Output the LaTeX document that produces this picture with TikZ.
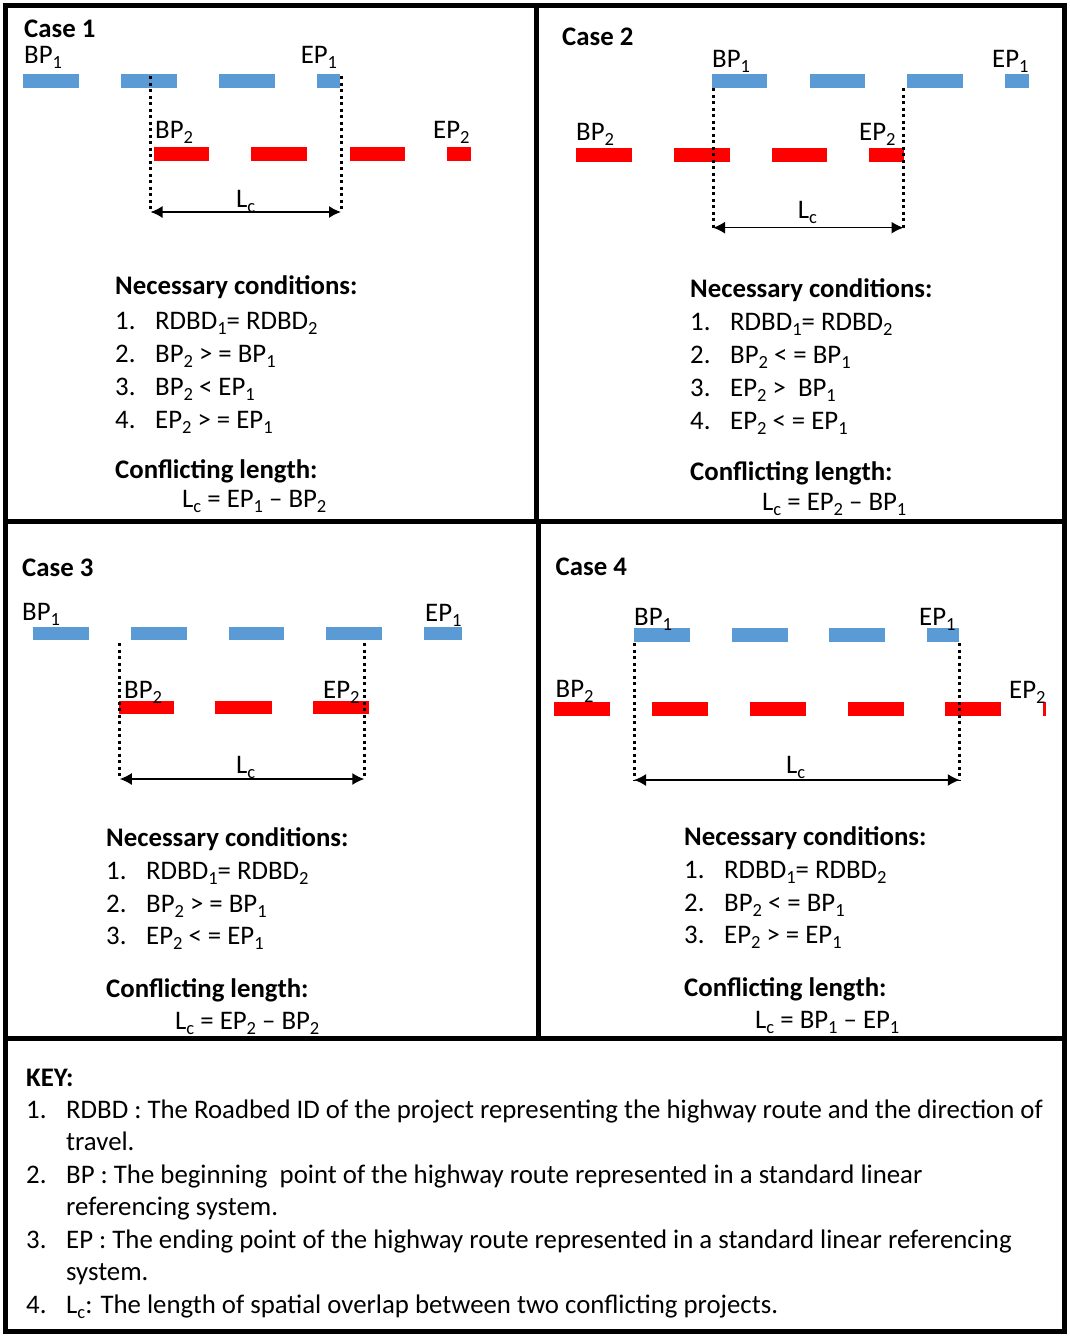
\documentclass[tikz,border=0pt]{standalone}
\usepackage{fontspec}
\setmainfont{Carlito}
\usetikzlibrary{arrows.meta}
\definecolor{segblue}{HTML}{5B9BD5}
\definecolor{segred}{HTML}{FF0000}
\newcommand{\sbs}[1]{{\fontsize{18.5}{18.5}\selectfont\raisebox{-5pt}{#1}}}
\newcommand{\itm}[1]{\makebox[40pt][l]{#1}}

\begin{document}
\begin{tikzpicture}[x=1pt,y=-1pt,
  txt/.style={anchor=base west,inner sep=0pt,font=\fontsize{26.8}{30}\selectfont},
  hdr/.style={txt,font=\fontsize{26.8}{30}\selectfont\bfseries},
  panel/.style={draw=black,line width=5pt},
  bdash/.style={fill=segblue},
  rdash/.style={fill=segred},
  guide/.style={draw=black,line width=3pt,dash pattern=on 3pt off 3.5pt},
  lcarrow/.style={{Latex[length=12pt,width=12pt]}-{Latex[length=12pt,width=12pt]},draw=black,line width=1.5pt}]

\useasboundingbox (0,0) rectangle (1070,1339);
\fill[white] (0,0) rectangle (1070,1339);

% panel borders
\draw[panel] (5,5) rectangle (1064.5,1331);
\draw[panel] (536,5) -- (536,521.5);
\draw[panel] (538,521.5) -- (538,1038.5);
\draw[panel] (5,521.5) -- (1064.5,521.5);
\draw[panel] (5,1038.5) -- (1064.5,1038.5);

% case 1 -- BP2 inside project 1, EP2 beyond EP1
\node[hdr] (c1t) at (24,37) {Case 1};
\fill[bdash] (23.4,74) rectangle (78.5,88);
\fill[bdash] (121,74) rectangle (176.6,88);
\fill[bdash] (219,74) rectangle (274.8,88);
\fill[bdash] (316.8,74) rectangle (340.2,88);
\fill[rdash] (153.6,147) rectangle (209.4,161);
\fill[rdash] (251.4,147) rectangle (306.8,161);
\fill[rdash] (349.5,147) rectangle (405,161);
\fill[rdash] (447,147) rectangle (470.7,161);
\node[txt] (c1bp1) at (24,63) {BP\sbs{1}};
\node[txt] (c1ep1) at (300.6,63) {EP\sbs{1}};
\node[txt] (c1bp2) at (155,138) {BP\sbs{2}};
\node[txt] (c1ep2) at (433,138) {EP\sbs{2}};
\coordinate (c1lt) at (150.5,76);
\coordinate (c1lb) at (150.5,212);
\coordinate (c1rt) at (341,76);
\coordinate (c1rb) at (341,212);
\draw[guide] (c1lt) -- (c1lb);
\draw[guide] (c1rt) -- (c1rb);
\draw[lcarrow] (c1lb) -- (c1rb);
\node[txt] (c1lc) at (236,207) {L\sbs{c}};
\node[hdr] (c1nc) at (115,294) {Necessary conditions:};
\node[txt] (c1i1) at (115,329) {\itm{1.}RDBD\sbs{1}= RDBD\sbs{2}};
\node[txt] (c1i2) at (115,362) {\itm{2.}BP\sbs{2} > = BP\sbs{1}};
\node[txt] (c1i3) at (115,395) {\itm{3.}BP\sbs{2} < EP\sbs{1}};
\node[txt] (c1i4) at (115,428) {\itm{4.}EP\sbs{2} > = EP\sbs{1}};
\node[hdr] (c1cl) at (115,478) {Conflicting length:};
\node[txt] (c1f) at (182,507) {L\sbs{c} = EP\sbs{1} -- BP\sbs{2}};

% case 2 -- project 2 starts before BP1 and ends inside
\node[hdr] (c2t) at (562,45) {Case 2};
\fill[bdash] (711.7,74) rectangle (767,88);
\fill[bdash] (809.6,74) rectangle (865,88);
\fill[bdash] (907,74) rectangle (962.5,88);
\fill[bdash] (1005,74) rectangle (1028.7,88);
\fill[rdash] (576,148) rectangle (631.5,162);
\fill[rdash] (673.5,148) rectangle (729.5,162);
\fill[rdash] (772,148) rectangle (827,162);
\fill[rdash] (869,148) rectangle (903.5,162);
\node[txt] (c2bp1) at (712,67) {BP\sbs{1}};
\node[txt] (c2ep1) at (992,67) {EP\sbs{1}};
\node[txt] (c2bp2) at (576,140) {BP\sbs{2}};
\node[txt] (c2ep2) at (859,140) {EP\sbs{2}};
\coordinate (c2lt) at (713,88);
\coordinate (c2lb) at (713,227.7);
\coordinate (c2rt) at (903.5,88);
\coordinate (c2rb) at (903.5,227.7);
\draw[guide] (c2lt) -- (c2lb);
\draw[guide] (c2rt) -- (c2rb);
\draw[lcarrow] (c2lb) -- (c2rb);
\node[txt] (c2lc) at (797.7,218) {L\sbs{c}};
\node[hdr] (c2nc) at (690,297) {Necessary conditions:};
\node[txt] (c2i1) at (690,330) {\itm{1.}RDBD\sbs{1}= RDBD\sbs{2}};
\node[txt] (c2i2) at (690,363) {\itm{2.}BP\sbs{2} < = BP\sbs{1}};
\node[txt] (c2i3) at (690,396) {\itm{3.}EP\sbs{2} >~ BP\sbs{1}};
\node[txt] (c2i4) at (690,429) {\itm{4.}EP\sbs{2} < = EP\sbs{1}};
\node[hdr] (c2cl) at (690,480) {Conflicting length:};
\node[txt] (c2f) at (762,510) {L\sbs{c} = EP\sbs{2} -- BP\sbs{1}};

% case 3 -- project 2 inside project 1
\node[hdr] (c3t) at (22,576) {Case 3};
\fill[bdash] (32.7,627) rectangle (88.8,640);
\fill[bdash] (130.9,627) rectangle (186.6,640);
\fill[bdash] (228.6,627) rectangle (284.4,640);
\fill[bdash] (326.4,627) rectangle (382.2,640);
\fill[bdash] (424,627) rectangle (461.8,640);
\fill[rdash] (118.8,700.7) rectangle (173.9,714);
\fill[rdash] (215,700.7) rectangle (272,714);
\fill[rdash] (313.4,700.7) rectangle (369,714);
\node[txt] (c3bp1) at (22,620) {BP\sbs{1}};
\node[txt] (c3ep1) at (425,621) {EP\sbs{1}};
\node[txt] (c3bp2) at (124,698) {BP\sbs{2}};
\node[txt] (c3ep2) at (323,698) {EP\sbs{2}};
\coordinate (c3lt) at (119.8,643);
\coordinate (c3lb) at (119.8,779);
\coordinate (c3rt) at (364.3,643);
\coordinate (c3rb) at (364.3,779);
\draw[guide] (c3lt) -- (c3lb);
\draw[guide] (c3rt) -- (c3rb);
\draw[lcarrow] (c3lb) -- (c3rb);
\node[txt] (c3lc) at (236,773) {L\sbs{c}};
\node[hdr] (c3nc) at (106,846) {Necessary conditions:};
\node[txt] (c3i1) at (106,879) {\itm{1.}RDBD\sbs{1}= RDBD\sbs{2}};
\node[txt] (c3i2) at (106,912) {\itm{2.}BP\sbs{2} > = BP\sbs{1}};
\node[txt] (c3i3) at (106,944) {\itm{3.}EP\sbs{2} < = EP\sbs{1}};
\node[hdr] (c3cl) at (106,997) {Conflicting length:};
\node[txt] (c3f) at (175,1029) {L\sbs{c} = EP\sbs{2} -- BP\sbs{2}};

% case 4 -- project 1 inside project 2
\node[hdr] (c4t) at (555.5,575) {Case 4};
\fill[bdash] (634,628) rectangle (689.6,642);
\fill[bdash] (732,628) rectangle (787.5,642);
\fill[bdash] (829.4,628) rectangle (885.4,642);
\fill[bdash] (927.4,628) rectangle (959.4,642);
\fill[rdash] (554.4,701.7) rectangle (610,715.7);
\fill[rdash] (652,701.7) rectangle (708,715.7);
\fill[rdash] (750,701.7) rectangle (805.5,715.7);
\fill[rdash] (847.9,701.7) rectangle (903.5,715.7);
\fill[rdash] (945.4,701.7) rectangle (1001.4,715.7);
\fill[rdash] (1043.3,701.7) rectangle (1045.7,715.7);
\node[txt] (c4bp1) at (634,625) {BP\sbs{1}};
\node[txt] (c4ep1) at (919,625) {EP\sbs{1}};
\node[txt] (c4bp2) at (555.5,697) {BP\sbs{2}};
\node[txt] (c4ep2) at (1009,698) {EP\sbs{2}};
\coordinate (c4lt) at (634,643);
\coordinate (c4lb) at (634,780);
\coordinate (c4rt) at (959.8,643);
\coordinate (c4rb) at (959.8,780);
\draw[guide] (c4lt) -- (c4lb);
\draw[guide] (c4rt) -- (c4rb);
\draw[lcarrow] (c4lb) -- (c4rb);
\node[txt] (c4lc) at (785.8,773) {L\sbs{c}};
\node[hdr] (c4nc) at (684,845) {Necessary conditions:};
\node[txt] (c4i1) at (684,878) {\itm{1.}RDBD\sbs{1}= RDBD\sbs{2}};
\node[txt] (c4i2) at (684,911) {\itm{2.}BP\sbs{2} < = BP\sbs{1}};
\node[txt] (c4i3) at (684,943) {\itm{3.}EP\sbs{2} > = EP\sbs{1}};
\node[hdr] (c4cl) at (684,996) {Conflicting length:};
\node[txt] (c4f) at (755,1028) {L\sbs{c} = BP\sbs{1} -- EP\sbs{1}};

% key
\node[hdr] (key) at (26,1086) {KEY:};
\node[txt] (k1) at (26,1118) {\itm{1.}RDBD : The Roadbed ID of the project representing the highway route and the direction of};
\node[txt] (k1b) at (66,1150.5) {travel.};
\node[txt] (k2) at (26,1183) {\itm{2.}BP : The beginning~ point of the highway route represented in a standard linear};
\node[txt] (k2b) at (66,1215.5) {referencing system.};
\node[txt] (k3) at (26,1248) {\itm{3.}EP : The ending point of the highway route represented in a standard linear referencing};
\node[txt] (k3b) at (66,1280.5) {system.};
\node[txt] (k4) at (26,1313) {\itm{4.}L\sbs{c}: The length of spatial overlap between two conflicting projects.};

\end{tikzpicture}
\end{document}
